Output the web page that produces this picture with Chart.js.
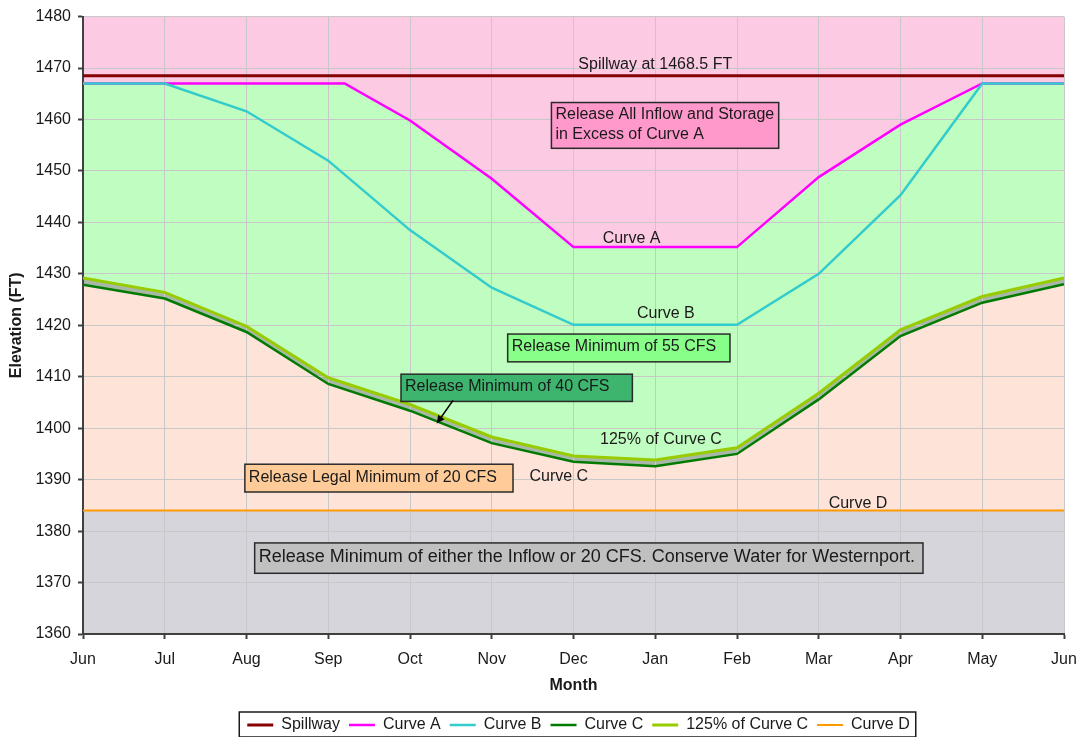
<!DOCTYPE html>
<html>
<head>
<meta charset="utf-8">
<script src="https://cdn.jsdelivr.net/npm/chart.js@4.4.0/dist/chart.umd.min.js"></script>
<style>
html, body { margin: 0; padding: 0; background: #ffffff; }
#ChartWrap { width: 1077px; height: 737px; }
</style>
</head>
<body>
<div id="ChartWrap"><canvas id="RuleCurveChart"></canvas></div>
<script>
const RuleCurveChartId = 'RuleCurveChart';

// month axis, 0 = Jun ... 12 = Jun
const MonthLabels = ['Jun', 'Jul', 'Aug', 'Sep', 'Oct', 'Nov', 'Dec', 'Jan', 'Feb', 'Mar', 'Apr', 'May', 'Jun'];
const MonthPos = [0, 1, 2, 3, 4, 5, 6, 7, 8, 9, 10, 11, 12];

const SpillwayPos = [0, 12];
const Spillway = [1468.5, 1468.5];

const CurveAPos = [0, 1, 2, 3.2, 4, 5, 6, 7, 8, 9, 10, 11, 12];
const CurveA = [1467, 1467, 1467, 1467, 1459.8, 1448.5, 1435.2, 1435.2, 1435.2, 1448.8, 1459, 1467, 1467];

const CurveB = [1467, 1467, 1461.6, 1452, 1438.5, 1427.3, 1420.1, 1420.1, 1420.1, 1430, 1445.3, 1467, 1467];
const CurveC = [1427.9, 1425.2, 1418.7, 1408.6, 1403.4, 1397.1, 1393.5, 1392.6, 1395, 1405.6, 1417.9, 1424.4, 1428];
const CurveC125 = [1429.2, 1426.4, 1419.8, 1409.8, 1404.6, 1398.3, 1394.6, 1393.8, 1396.2, 1406.8, 1419.1, 1425.6, 1429.2];

const CurveDPos = [0, 12];
const CurveD = [1384, 1384];

const YMin = 1360;
const YMax = 1480;
const YStep = 10;

// text on the plot, in axis units
const PlotNotes = [
    { text: 'Spillway at 1468.5 FT', x: 7.0, y: 1470.7 },
    { text: 'Curve A', x: 6.71, y: 1436.9 },
    { text: 'Curve B', x: 7.13, y: 1422.3 },
    { text: '125% of Curve C', x: 7.07, y: 1397.7 },
    { text: 'Curve C', x: 5.82, y: 1390.5 },
    { text: 'Curve D', x: 9.48, y: 1385.3 }
];

const PlotBoxes = [
    { lines: ['Release All Inflow and Storage', 'in Excess of Curve A'], x1: 5.73, x2: 8.51, y1: 1463.3, y2: 1454.4, fill: '#FF99CC', size: 16 },
    { lines: ['Release Minimum of 55 CFS'], x1: 5.195, x2: 7.914, y1: 1418.3, y2: 1412.9, fill: '#88FF88', size: 16 },
    { lines: ['Release Minimum of 40 CFS'], x1: 3.89, x2: 6.72, y1: 1410.5, y2: 1405.2, fill: '#3DB56E', size: 16 },
    { lines: ['Release Legal Minimum of 20 CFS'], x1: 1.98, x2: 5.26, y1: 1393.0, y2: 1387.6, fill: '#FFCC99', size: 16 },
    { lines: ['Release Minimum of either the Inflow or 20 CFS. Conserve Water for Westernport.'], x1: 2.10, x2: 10.275, y1: 1377.7, y2: 1371.8, fill: '#C0C0C0', size: 18 }
];

const PlotArrow = { x1: 4.526, y1: 1405.4, x2: 4.327, y2: 1400.9 };

function ToPoints(xs, ys)
{
    return ys.map((y, i) => ({ x: xs[i], y: y }));
}

const FontFamily = '"Liberation Sans", Arial, sans-serif';
Chart.defaults.font.family = FontFamily;
Chart.defaults.font.size = 16;
Chart.defaults.color = '#1a1a1a';

const notesPlugin = {
    id: 'plotNotes',
    afterDatasetsDraw(chart) {
        const { ctx, scales: { x, y } } = chart;
        ctx.save();
        ctx.fillStyle = '#1a1a1a';
        ctx.textAlign = 'center';
        ctx.textBaseline = 'middle';
        ctx.font = '16px ' + FontFamily;
        for (let note of PlotNotes) {
            ctx.fillText(note.text, x.getPixelForValue(note.x), y.getPixelForValue(note.y));
        }

        for (let box of PlotBoxes) {
            const left = x.getPixelForValue(box.x1);
            const right = x.getPixelForValue(box.x2);
            const top = y.getPixelForValue(box.y1);
            const bottom = y.getPixelForValue(box.y2);
            ctx.fillStyle = box.fill;
            ctx.fillRect(left, top, right - left, bottom - top);
            ctx.lineWidth = 1.5;
            ctx.strokeStyle = '#2a2a2a';
            ctx.strokeRect(left, top, right - left, bottom - top);
            ctx.fillStyle = '#1a1a1a';
            ctx.textAlign = 'left';
            ctx.font = box.size + 'px ' + FontFamily;
            const lineGap = 20.6;
            const mid = (top + bottom) / 2 - 1;
            box.lines.forEach((line, i) => {
                const ly = mid + (i - (box.lines.length - 1) / 2) * lineGap;
                ctx.fillText(line, left + 4, ly);
            });
        }

        // arrow from the 40 CFS box down to Curve C
        const ax1 = x.getPixelForValue(PlotArrow.x1);
        const ay1 = y.getPixelForValue(PlotArrow.y1);
        const ax2 = x.getPixelForValue(PlotArrow.x2);
        const ay2 = y.getPixelForValue(PlotArrow.y2);
        const ang = Math.atan2(ay2 - ay1, ax2 - ax1);
        ctx.strokeStyle = '#000000';
        ctx.fillStyle = '#000000';
        ctx.lineWidth = 1.5;
        ctx.beginPath();
        ctx.moveTo(ax1, ay1);
        ctx.lineTo(ax2 - Math.cos(ang) * 5, ay2 - Math.sin(ang) * 5);
        ctx.stroke();
        ctx.beginPath();
        ctx.moveTo(ax2, ay2);
        ctx.lineTo(ax2 - Math.cos(ang - 0.45) * 9, ay2 - Math.sin(ang - 0.45) * 9);
        ctx.lineTo(ax2 - Math.cos(ang + 0.45) * 9, ay2 - Math.sin(ang + 0.45) * 9);
        ctx.closePath();
        ctx.fill();
        ctx.restore();
    }
};

const legendBoxPlugin = {
    id: 'legendBox',
    afterLayout(chart) {
        // the legend sits a little right of centre in the original
        if (!chart.legend) return;
        chart.legend.left += 40;
        chart.legend.right += 40;
    },
    afterDraw(chart) {
        const boxes = chart.legend && chart.legend.legendHitBoxes;
        if (!boxes || boxes.length === 0) return;
        const first = boxes[0];
        const last = boxes[boxes.length - 1];
        const { ctx } = chart;
        const cy = first.top + first.height / 2;
        ctx.save();
        ctx.strokeStyle = '#1a1a1a';
        ctx.lineWidth = 1.5;
        ctx.strokeRect(first.left - 8, cy - 13, last.left + last.width + 14 - first.left, 25);
        ctx.restore();
    }
};

function LineSet(label, xs, ys, color, width, order, fill, fillColor)
{
    return {
        label: label,
        data: ToPoints(xs, ys),
        borderColor: color,
        borderWidth: width,
        backgroundColor: fillColor || color,
        pointRadius: 0,
        tension: 0,
        fill: fill,
        order: order
    };
}

new Chart(document.getElementById(RuleCurveChartId),
{
    type: 'line',
    data:
    {
        datasets: [
            // spillway fill paints the bottom (grey) band under everything else
            LineSet('Spillway', SpillwayPos, Spillway, '#850000', 3, 10, 'start', '#D6D5DB'),
            LineSet('Curve A', CurveAPos, CurveA, '#FF00FF', 2.5, 2, 'end', '#FDCAE4'),
            LineSet('Curve B', MonthPos, CurveB, '#33CCCC', 2.5, 1, false),
            LineSet('Curve C', MonthPos, CurveC, '#007A00', 2.5, 3, 4, '#A8B8A8'),
            LineSet('125% of Curve C', MonthPos, CurveC125, '#99CC00', 3, 4, 1, '#C0FDC0'),
            LineSet('Curve D', CurveDPos, CurveD, '#FF9900', 2, 5, 3, '#FDE3D8')
        ]
    },
    options:
    {
        responsive: true,
        maintainAspectRatio: false,
        animation: false,
        layout: { padding: { left: 0, right: 0, top: 15, bottom: -6 } },
        plugins:
        {
            filler: { drawTime: 'beforeDraw' },
            tooltip: { enabled: false },
            legend:
            {
                position: 'bottom',
                labels:
                {
                    usePointStyle: true,
                    pointStyle: 'line',
                    pointStyleWidth: 26,
                    padding: 9,
                    color: '#1a1a1a',
                    font: { size: 16 },
                    sort: (a, b) => a.datasetIndex - b.datasetIndex
                }
            }
        },
        scales:
        {
            x:
            {
                type: 'linear',
                min: 0,
                max: 12,
                afterFit: (scale) => { scale.height = 74; scale.paddingRight = 13; },
                ticks:
                {
                    stepSize: 1,
                    padding: 11,
                    color: '#1a1a1a',
                    font: { size: 16 },
                    callback: (value) => MonthLabels[value]
                },
                grid: { color: '#C8C8C8', lineWidth: 1, tickLength: 5, tickColor: '#404040', tickWidth: 2 },
                border: { color: '#404040', width: 2 },
                title: { display: true, text: 'Month', color: '#1a1a1a', font: { size: 16, weight: 'bold' }, padding: { top: 0, bottom: 13 } }
            },
            y:
            {
                min: YMin,
                max: YMax,
                afterFit: (scale) => { scale.width = 83; },
                ticks: { stepSize: YStep, padding: 7, color: '#1a1a1a', font: { size: 16 }, callback: (value) => String(value) },
                grid: { color: '#C8C8C8', lineWidth: 1, tickLength: 5, tickColor: '#404040', tickWidth: 2 },
                border: { color: '#404040', width: 2 },
                title: { display: true, text: 'Elevation (FT)', color: '#1a1a1a', font: { size: 16, weight: 'bold' }, padding: { top: 7, bottom: 0 } }
            }
        }
    },
    plugins: [notesPlugin, legendBoxPlugin]
});
</script>
</body>
</html>
